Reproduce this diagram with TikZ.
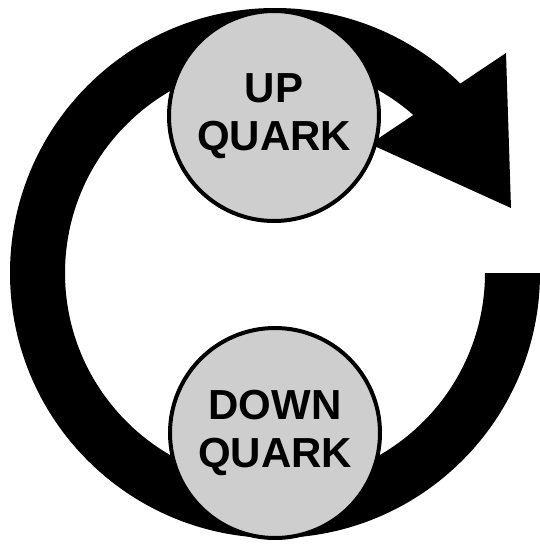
\documentclass[tikz,border=0pt]{standalone}
\usepackage{fontspec}
\setmainfont{Liberation Sans}
\usetikzlibrary{calc}
\definecolor{quarkgray}{RGB}{206,206,206}
\begin{document}
\begin{tikzpicture}[x=1pt,y=-1pt,
  quark/.style={circle, draw=black, line width=4pt, fill=quarkgray,
    minimum size=210pt, inner sep=0pt, align=center,
    font=\fontsize{42}{48}\selectfont\bfseries}]
\useasboundingbox (0,0) rectangle (540,544);
% ring band
\fill[black] (540,273) arc[start angle=0, end angle=320, radius=265]
  -- ($(275,273)+(320:210)$) arc[start angle=320, end angle=0, radius=210] -- cycle;
% arrowhead
\fill[black] (506,53) -- (511,208) -- (370,144) -- cycle;
% quarks
\node[quark] (up) at (274,116) {UP\\QUARK};
\node[quark] (down) at (275,433) {DOWN\\QUARK};
\end{tikzpicture}
\end{document}
